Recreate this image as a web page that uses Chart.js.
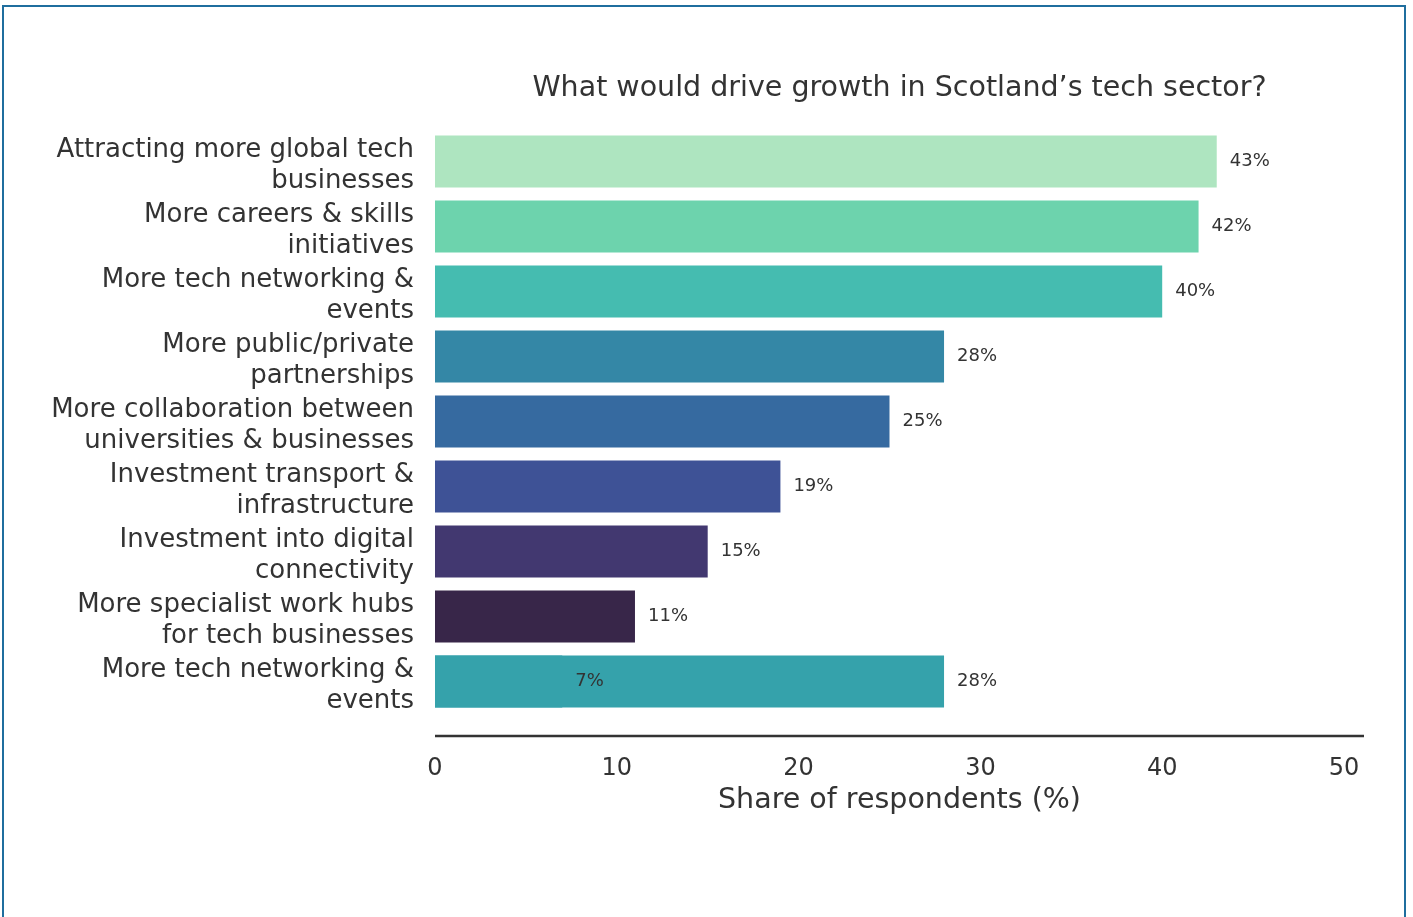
<!DOCTYPE html>
<html>
<head>
<meta charset="utf-8">
<title>Tech sector growth drivers</title>
<script src="https://cdn.jsdelivr.net/npm/chart.js@4.4.1/dist/chart.umd.min.js"></script>
<style>
  html, body { margin: 0; padding: 0; background: #fff; overflow: hidden; }
  #frame {
    position: absolute; left: 2px; top: 5px; width: 1404px; height: 1000px;
    border: 2px solid #1f6e9e; box-sizing: border-box;
  }
  #wrap { position: absolute; left: 0; top: 0; width: 1413px; height: 917px; }
</style>
</head>
<body>
<div id="frame"></div>
<div id="wrap"><canvas id="growthChart" width="1413" height="917"></canvas></div>
<script>
// survey answers, one entry per bar (multi-line labels)
const categories = [
  ["Attracting more global tech", "businesses"],
  ["More careers & skills", "initiatives"],
  ["More tech networking &", "events"],
  ["More public/private", "partnerships"],
  ["More collaboration between", "universities & businesses"],
  ["Investment transport &", "infrastructure"],
  ["Investment into digital", "connectivity"],
  ["More specialist work hubs", "for tech businesses"],
  ["More tech networking &", "events"]
];
const shares = [43, 42, 40, 28, 25, 19, 15, 11, 7];
// the last row is overdrawn by a second bar
const overlayShares = [null, null, null, null, null, null, null, null, 28];
const barColors = ["#aee5c0", "#6dd3ad", "#45bcb0", "#3487a6", "#366aa0",
                   "#3e5296", "#423870", "#382649", "#35a2ab"];
const xTicks = [0, 10, 20, 30, 40, 50];

const FONT = "'DejaVu Sans', sans-serif";
const TEXT = "#333333";

const extras = {
  id: "extras",
  afterDatasetsDraw(chart) {
    const ctx = chart.ctx;
    ctx.save();
    ctx.font = "18px " + FONT;
    ctx.fillStyle = TEXT;
    ctx.textAlign = "left";
    ctx.textBaseline = "middle";
    chart.data.datasets.forEach((ds, i) => {
      chart.getDatasetMeta(i).data.forEach((bar, j) => {
        const v = ds.data[j];
        if (v == null) return;
        ctx.fillText(v + "%", bar.x + 13, bar.y);
      });
    });
    ctx.restore();
  },
  afterDraw(chart) {
    const ctx = chart.ctx;
    const x = chart.scales.x;
    const area = chart.chartArea;
    ctx.save();
    // offset bottom spine
    ctx.strokeStyle = "#333";
    ctx.lineWidth = 2.5;
    ctx.beginPath();
    ctx.moveTo(x.left, area.bottom + 22);
    ctx.lineTo(x.right, area.bottom + 22);
    ctx.stroke();
    // title centred over the plot
    ctx.font = "28.5px " + FONT;
    ctx.fillStyle = TEXT;
    ctx.textAlign = "center";
    ctx.textBaseline = "middle";
    ctx.fillText("What would drive growth in Scotland\u2019s tech sector?", (area.left + area.right) / 2, 89);
    ctx.restore();
  }
};

new Chart(document.getElementById("growthChart"), {
  type: "bar",
  data: {
    labels: categories,
    datasets: [
      {
        data: overlayShares,
        backgroundColor: "#35a2ab",
        borderWidth: 0,
        order: 0
      },
      {
        data: shares,
        backgroundColor: barColors,
        borderWidth: 0,
        order: 1
      }
    ]
  },
  options: {
    indexAxis: "y",
    responsive: false,
    animation: false,
    grouped: false,
    categoryPercentage: 0.8,
    barPercentage: 1,
    layout: { padding: { left: 0, right: 49, top: 129, bottom: 95 } },
    plugins: {
      legend: { display: false },
      tooltip: { enabled: false },
      title: { display: false }
    },
    scales: {
      x: {
        min: 0,
        max: 51.1,
        afterBuildTicks(scale) {
          scale.ticks = xTicks.map(v => ({ value: v }));
        },
        afterFit(scale) { scale.height = 108; },
        grid: { display: false, drawTicks: false },
        border: { display: false },
        ticks: {
          padding: 40,
          color: TEXT,
          font: { family: FONT, size: 24 },
          maxRotation: 0
        },
        title: {
          display: true,
          text: "Share of respondents (%)",
          color: TEXT,
          font: { family: FONT, size: 28.5 },
          padding: { top: 4, bottom: 4 }
        }
      },
      y: {
        afterFit(scale) { scale.width = 435; },
        grid: { display: false, drawTicks: false },
        border: { display: false },
        ticks: {
          autoSkip: false,
          padding: 21,
          labelOffset: 4,
          color: TEXT,
          font: { family: FONT, size: 26, lineHeight: 1.2 }
        }
      }
    }
  },
  plugins: [extras]
});
</script>
</body>
</html>
